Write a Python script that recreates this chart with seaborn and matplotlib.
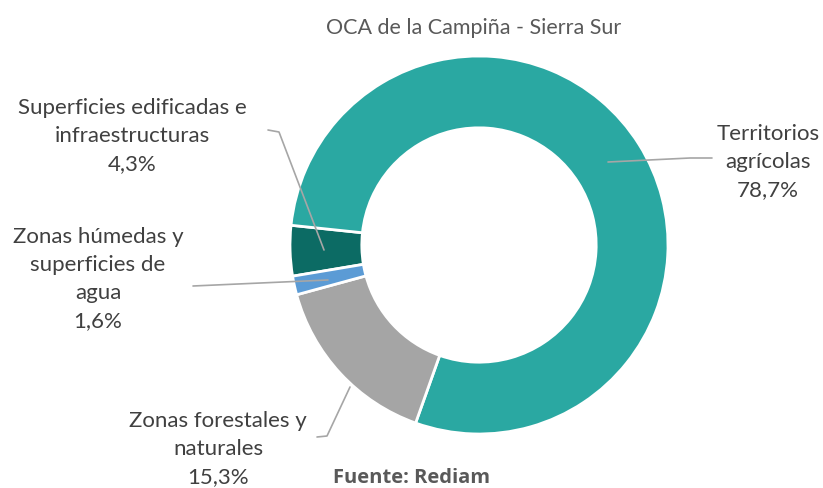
import matplotlib
matplotlib.use("Agg")
import matplotlib.pyplot as plt
import seaborn as sns

# data (order as drawn clockwise)
categories = ["Superficies edificadas e\ninfraestructuras",
              "Territorios\nagrícolas",
              "Zonas forestales y\nnaturales",
              "Zonas húmedas y\nsuperficies de\nagua"]
shares = [4.3, 78.7, 15.3, 1.6]
pct_labels = ["4,3%", "78,7%", "15,3%", "1,6%"]
colors = ["#0C6B64", "#2AA8A2", "#A5A5A5", "#5B9BD5"]

sns.set_theme(style="white")
plt.rcParams['font.family'] = ['Lato', 'DejaVu Sans']

W, H = 823, 489
fig = plt.figure(figsize=(W / 100, H / 100), dpi=100)

# donut
cx, cy, r = 479, 246, 189
ax = fig.add_axes([(cx - r) / W, (H - cy - r) / H, 2 * r / W, 2 * r / H])
ax.pie(shares, colors=colors, startangle=189.5, counterclock=False,
       radius=1, wedgeprops=dict(width=0.38, edgecolor="white", linewidth=2))
ax.set_xlim(-1, 1)
ax.set_ylim(-1, 1)
ax.set_aspect("equal")
ax.axis("off")

# overlay in pixel coords for labels
ov = fig.add_axes([0, 0, 1, 1])
ov.set_xlim(0, W)
ov.set_ylim(H, 0)
ov.axis("off")

ov.text(474, 28, "OCA de la Campiña - Sierra Sur", ha="center", va="center",
        fontsize=15.5, color="#595959")

label_pos = [(132, 136), (768, 162), (218, 449), (98, 279)]
leaders = [
    [(268, 131), (279, 133), (324, 251)],
    [(712, 159), (690, 159), (608, 163)],
    [(317, 438), (327, 437), (350, 388)],
    [(193, 287), (328, 281)],
]
for cat, pct, (x, y), pts in zip(categories, pct_labels, label_pos, leaders):
    ov.text(x, y, cat + "\n" + pct, ha="center", va="center", fontsize=16,
            color="#404040", linespacing=1.5)
    xs, ys = zip(*pts)
    ov.plot(xs, ys, color="#A6A6A6", lw=1.2)

ov.text(412, 478, "Fuente: Rediam", ha="center", va="center", fontsize=14.5,
        fontweight="bold", color="#595959", family=["Open Sans", "DejaVu Sans"])

fig.savefig("out.png", dpi=100)
